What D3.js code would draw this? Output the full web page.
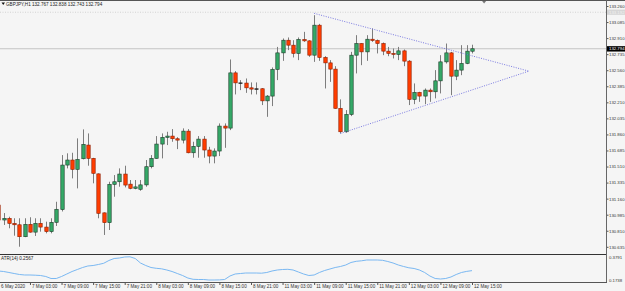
<!DOCTYPE html>
<html><head><meta charset="utf-8">
<script src="https://cdn.jsdelivr.net/npm/d3@7"></script>
<style>html,body{margin:0;padding:0;background:#f5f5f5;overflow:hidden}svg{display:block}</style>
</head><body><svg id="c" width="625" height="291"></svg>
<script>
// ---- data (H1 candles, GBPJPY) ----
const opens  = [131.090,130.927,130.945,130.890,130.875,130.745,130.880,130.795,130.891,130.850,130.800,130.902,131.040,131.526,131.581,131.479,131.595,131.744,131.599,131.430,131.005,130.898,131.316,131.344,131.428,131.318,131.272,131.262,131.310,131.508,131.599,131.755,131.828,131.842,131.813,131.798,131.896,131.660,131.730,131.809,131.690,131.624,131.679,131.951,131.929,132.531,132.422,132.420,132.368,132.354,132.358,132.226,132.278,132.568,132.749,132.887,132.833,132.743,132.895,132.880,132.724,133.051,132.699,132.640,132.572,132.144,131.889,132.078,132.724,132.851,132.760,132.898,132.884,132.851,132.768,132.743,132.732,132.771,132.659,132.242,132.318,132.278,132.343,132.325,132.444,132.651,132.749,132.495,132.561,132.634,132.767];
const highs  = [131.145,131.003,130.963,130.946,130.946,130.946,130.957,130.946,130.946,130.909,130.946,131.126,131.635,131.654,131.660,131.817,131.915,131.871,131.605,131.435,131.010,131.344,131.417,131.490,131.519,131.363,131.363,131.363,131.581,131.635,131.842,131.871,131.889,131.918,131.830,131.926,131.918,131.780,131.842,131.842,131.725,131.708,131.980,131.980,132.677,132.550,132.452,132.470,132.427,132.427,132.365,132.289,132.590,132.814,132.906,132.917,132.887,132.917,132.978,132.887,133.160,133.065,132.713,132.670,132.604,132.242,132.125,132.760,132.942,132.855,132.942,133.015,132.895,132.862,132.814,132.797,132.814,132.786,132.670,132.416,132.325,132.361,132.361,132.561,132.724,132.851,132.760,132.670,132.833,132.833,132.838];
const lows   = [130.873,130.873,130.837,130.756,130.636,130.740,130.789,130.753,130.800,130.782,130.782,130.862,131.020,131.490,131.381,131.272,131.588,131.519,131.327,130.946,130.764,130.818,131.181,131.290,131.283,131.262,131.262,131.246,131.290,131.490,131.595,131.599,131.744,131.780,131.700,131.762,131.654,131.606,131.606,131.606,131.545,131.545,131.624,131.714,131.907,132.296,132.343,132.313,132.296,132.296,132.180,132.052,132.169,132.452,132.662,132.779,132.699,132.670,132.869,132.706,132.651,132.662,132.361,132.433,132.140,131.871,131.878,132.060,132.525,132.615,132.662,132.869,132.743,132.724,132.713,132.688,132.670,132.604,132.180,132.190,132.215,132.190,132.215,132.253,132.307,132.633,132.288,132.452,132.506,132.626,132.743];
const closes = [130.927,130.945,130.890,130.875,130.745,130.880,130.795,130.891,130.850,130.800,130.902,131.044,131.526,131.581,131.479,131.588,131.752,131.599,131.436,131.000,130.898,131.316,131.344,131.428,131.308,131.272,131.288,131.310,131.508,131.599,131.755,131.828,131.842,131.813,131.798,131.896,131.660,131.730,131.809,131.690,131.624,131.679,131.951,131.929,132.531,132.422,132.420,132.368,132.354,132.358,132.226,132.278,132.568,132.749,132.887,132.833,132.743,132.895,132.880,132.724,133.051,132.699,132.640,132.572,132.144,131.889,132.078,132.724,132.851,132.760,132.898,132.884,132.851,132.768,132.743,132.732,132.771,132.659,132.242,132.318,132.278,132.343,132.325,132.444,132.651,132.749,132.495,132.561,132.634,132.768,132.794];
const atrValues = [0.2534,0.2490,0.2402,0.2313,0.2225,0.2181,0.2181,0.2163,0.2136,0.2048,0.1871,0.1871,0.2048,0.2269,0.2490,0.2667,0.2844,0.2977,0.3021,0.3110,0.3216,0.3464,0.3641,0.3685,0.3773,0.3791,0.3641,0.3242,0.3021,0.2844,0.2773,0.2729,0.2623,0.2490,0.2313,0.2136,0.1915,0.1800,0.1782,0.1782,0.1738,0.1738,0.1745,0.1782,0.2092,0.2269,0.2313,0.2357,0.2357,0.2357,0.2340,0.2402,0.2534,0.2623,0.2667,0.2685,0.2623,0.2446,0.2269,0.2136,0.2181,0.2402,0.2579,0.2711,0.2844,0.2933,0.3065,0.3287,0.3393,0.3437,0.3508,0.3508,0.3508,0.3481,0.3375,0.3242,0.3065,0.2933,0.2818,0.2756,0.2623,0.2402,0.2092,0.1871,0.1826,0.1871,0.2004,0.2225,0.2402,0.2500,0.2567];
const timeLabels = ["6 May 2020","7 May 03:00","7 May 09:00","7 May 15:00","7 May 21:00","8 May 03:00","8 May 09:00","8 May 15:00","8 May 21:00","11 May 03:00","11 May 09:00","11 May 15:00","11 May 21:00","12 May 03:00","12 May 09:00","12 May 15:00"];
const labelStep = 6;
const priceTicks = [133.260,133.085,132.910,132.735,132.560,132.385,132.210,132.035,131.860,131.685,131.510,131.335,131.160,130.985,130.810,130.635];
const atrTicks = [0.3791,0.1738];
const trendLines = [{i0:60,p0:133.180,i1:100.8,p1:132.550},{i0:65,p0:131.870,i1:100.8,p1:132.550}];
const highLinePrice = 133.192;
const title = "GBPJPY,H1";
const atrTitle = "ATR(14)";

// ---- layout ----
const W=625,H=291, plotRight=606, mainTop=1, mainBottom=254, subBottom=282;
const svg=d3.select("#c");
const font="'Liberation Sans',Arial,sans-serif";
const fs=4.6, afs=4.3;

const x=d3.scaleLinear().domain([0,90]).range([-1.6,472]);
const y=d3.scaleLinear().domain([130.635,133.260]).range([246.8,6]);
const ya=d3.scaleLinear().domain([0.1738,0.3791]).range([280,256.8]);

svg.append("rect").attr("width",W).attr("height",H).attr("fill","#f5f5f5");
svg.append("clipPath").attr("id","mc").append("rect").attr("x",0).attr("y",mainTop).attr("width",plotRight).attr("height",mainBottom-mainTop);
svg.append("clipPath").attr("id","sc").append("rect").attr("x",0).attr("y",mainBottom+1).attr("width",plotRight).attr("height",subBottom-mainBottom-1);

const main=svg.append("g").attr("clip-path","url(#mc)");
main.append("line").attr("x1",0).attr("x2",plotRight).attr("y1",y(highLinePrice)).attr("y2",y(highLinePrice))
  .attr("stroke","#c9c9c9").attr("stroke-width",0.8).attr("stroke-dasharray","1,1.5");
const last=closes[closes.length-1];
main.append("line").attr("x1",0).attr("x2",plotRight).attr("y1",y(last)).attr("y2",y(last))
  .attr("stroke","#c4c4c4").attr("stroke-width",1);

const idx=d3.range(opens.length);
main.selectAll("line.w").data(idx).join("line").attr("class","w")
  .attr("x1",i=>Math.round(x(i))+0.5).attr("x2",i=>Math.round(x(i))+0.5)
  .attr("y1",i=>y(highs[i])).attr("y2",i=>y(lows[i]))
  .attr("stroke","#7d7d7d").attr("stroke-width",1);
main.selectAll("rect.b").data(idx).join("rect").attr("class","b")
  .attr("x",i=>Math.round(x(i))-1.2).attr("width",3.4)
  .attr("y",i=>y(Math.max(opens[i],closes[i])))
  .attr("height",i=>Math.max(0.7,Math.abs(y(opens[i])-y(closes[i]))))
  .attr("fill",i=>Math.abs(opens[i]-closes[i])<0.004?"#222":(closes[i]>=opens[i]?"#35a867":"#ff3d00"))
  .attr("stroke",i=>Math.abs(opens[i]-closes[i])<0.004?"#222":(closes[i]>=opens[i]?"#1d3b29":"#8c1d00"))
  .attr("stroke-width",0.6);

main.selectAll("line.t").data(trendLines).join("line").attr("class","t")
  .attr("x1",d=>x(d.i0)).attr("y1",d=>y(d.p0)).attr("x2",d=>x(d.i1)).attr("y2",d=>y(d.p1))
  .attr("stroke","#6c6cde").attr("stroke-width",0.9).attr("stroke-dasharray","1,1.4");

svg.append("path").attr("d",`M${x(92.3)-2},1 L${x(92.3)+2},1 L${x(92.3)},3.5 Z`).attr("fill","#777");

svg.append("path").attr("d","M1.5,2.5 L5,2.5 L3.25,5 Z").attr("fill","#111");
svg.append("text").attr("x",6).attr("y",5.6).attr("font-family",font).attr("font-size",fs).attr("fill","#222")
  .text(`${title} ${opens[90].toFixed(3)} ${highs[90].toFixed(3)} ${lows[90].toFixed(3)} ${closes[90].toFixed(3)}`);

svg.append("line").attr("x1",0).attr("x2",W).attr("y1",0.5).attr("y2",0.5).attr("stroke","#555").attr("stroke-width",1);
svg.append("line").attr("x1",plotRight+0.5).attr("x2",plotRight+0.5).attr("y1",0).attr("y2",subBottom+1).attr("stroke","#666").attr("stroke-width",1);
svg.append("line").attr("x1",0).attr("x2",plotRight).attr("y1",mainBottom+0.5).attr("y2",mainBottom+0.5).attr("stroke","#333").attr("stroke-width",1);
svg.append("line").attr("x1",0).attr("x2",plotRight+1).attr("y1",subBottom+0.5).attr("y2",subBottom+0.5).attr("stroke","#555").attr("stroke-width",1);

// price axis
const pa=svg.append("g").attr("transform",`translate(${plotRight+1},0)`)
  .call(d3.axisRight(y).tickValues(priceTicks).tickSize(1.5).tickFormat(d3.format(".3f")));
pa.select(".domain").remove();
pa.selectAll(".tick line").attr("stroke","#555");
pa.selectAll(".tick text").attr("x",2).attr("font-family",font).attr("font-size",afs).attr("fill","#333");

const hl=svg.append("g");
hl.append("rect").attr("x",plotRight+1).attr("y",y(highLinePrice)-2.6).attr("width",W-plotRight).attr("height",5.2).attr("fill","#d6d6d6");
hl.append("text").attr("x",plotRight+3).attr("y",y(highLinePrice)+1.6).attr("font-family",font).attr("font-size",afs).attr("fill","#f2f2f2").text(highLinePrice.toFixed(3));
svg.append("rect").attr("x",plotRight+1).attr("y",y(last)-2.6).attr("width",W-plotRight).attr("height",5.4).attr("fill","#000");
svg.append("text").attr("x",plotRight+3).attr("y",y(last)+1.6).attr("font-family",font).attr("font-size",afs).attr("fill","#fff").text(last.toFixed(3));

// ATR
const sub=svg.append("g").attr("clip-path","url(#sc)");
sub.append("path").datum(idx).attr("fill","none").attr("stroke","#7ab8f2").attr("stroke-width",1)
  .attr("d",d3.line().x(i=>x(i)).y(i=>ya(atrValues[i])));
svg.append("text").attr("x",1).attr("y",260.3).attr("font-family",font).attr("font-size",fs).attr("fill","#222")
  .text(`${atrTitle} ${atrValues[atrValues.length-1].toFixed(4)}`);
const aa=svg.append("g").attr("transform",`translate(${plotRight+1},0)`)
  .call(d3.axisRight(ya).tickValues(atrTicks).tickSize(0).tickFormat(d3.format(".4f")));
aa.select(".domain").remove();
aa.selectAll(".tick text").attr("x",2).attr("font-family",font).attr("font-size",afs).attr("fill","#333");

// time axis
const tickIdx=timeLabels.map((d,k)=>k*labelStep);
const ta=svg.append("g").attr("transform",`translate(0,${subBottom+1})`)
  .call(d3.axisBottom(x).tickValues(tickIdx).tickSize(2).tickFormat((d,k)=>timeLabels[k]));
ta.select(".domain").remove();
ta.selectAll(".tick line").attr("stroke","#555");
ta.selectAll(".tick text").attr("text-anchor","start").attr("x",d=>Math.max(1.5,0.6-x(d))).attr("y",1.2).attr("dy","0.75em")
  .attr("font-family",font).attr("font-size",fs).attr("fill","#333");
</script>
</body></html>
